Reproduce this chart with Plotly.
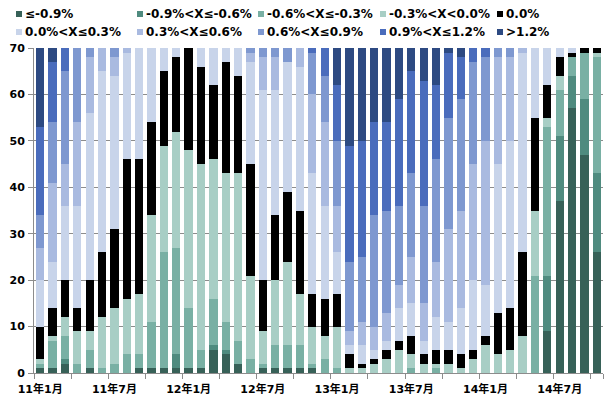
import plotly.graph_objects as go

# Monthly categories, Jan 2011 .. Oct 2014
MONTHS = [f"{y}年{m}月" for y in (11, 12, 13) for m in range(1, 13)] + \
         [f"14年{m}月" for m in range(1, 11)]
LABELLED = ["11年1月", "11年7月", "12年1月", "12年7月",
            "13年1月", "13年7月", "14年1月", "14年7月"]

# number of cities in each month-on-month change bucket (bottom to top)
le_m09 = [1, 1, 2, 0, 1, 0, 0, 0, 1, 1, 1, 1, 1, 1, 5, 4, 2, 0, 1, 1, 1, 1, 1,
          0, 0, 0, 0, 0, 0, 0, 0, 0, 0, 0, 0, 0, 0, 0, 0, 0, 0, 9, 37, 57, 47, 26]
m09_m06 = [0, 0, 1, 0, 0, 0, 0, 0, 0, 0, 0, 3, 0, 0, 1, 1, 0, 0, 0, 0, 0, 0, 0,
           0, 0, 0, 0, 0, 0, 0, 0, 0, 0, 0, 0, 0, 0, 0, 0, 0, 0, 12, 14, 7, 12, 17]
m06_m03 = [1, 6, 5, 2, 4, 1, 2, 4, 3, 10, 25, 23, 13, 4, 10, 6, 5, 3, 1, 5, 5, 5, 1,
           3, 1, 0, 0, 0, 0, 0, 1, 0, 1, 0, 0, 0, 0, 0, 0, 0, 21, 32, 10, 4, 10, 25]
m03_00 = [1, 1, 4, 7, 4, 11, 12, 12, 13, 23, 23, 25, 34, 40, 30, 32, 36, 18, 7, 14, 18, 11, 8,
          5, 9, 1, 1, 2, 3, 5, 3, 2, 1, 2, 1, 3, 6, 4, 5, 8, 14, 2, 3, 0, 0, 1]
zero = [7, 6, 8, 5, 11, 14, 17, 30, 29, 20, 16, 16, 22, 21, 16, 24, 21, 24, 11, 14, 15, 18, 7,
        8, 7, 3, 1, 1, 2, 2, 4, 2, 3, 3, 3, 2, 2, 9, 9, 18, 20, 7, 4, 1, 1, 1]
p00_03 = [10, 10, 16, 22, 36, 39, 33, 23, 24, 16, 5, 2, 0, 4, 8, 3, 6, 22, 41, 27, 28, 31, 26,
          20, 9, 2, 4, 2, 2, 7, 7, 3, 7, 6, 10, 15, 11, 32, 36, 43, 15, 8, 2, 1, 0, 0]
p03_06 = [7, 17, 9, 18, 12, 5, 4, 1, 0, 0, 0, 0, 0, 0, 0, 0, 0, 2, 7, 7, 0, 4, 17,
          18, 10, 3, 5, 5, 6, 5, 10, 8, 12, 20, 21, 25, 31, 23, 18, 1, 0, 0, 0, 0, 0, 0]
p06_09 = [7, 13, 20, 16, 2, 0, 2, 0, 0, 0, 0, 0, 0, 0, 0, 0, 0, 1, 2, 2, 3, 0, 9,
          10, 14, 15, 14, 24, 22, 17, 18, 21, 22, 24, 24, 22, 18, 2, 2, 0, 0, 0, 0, 0, 0, 0]
p09_12 = [19, 13, 5, 0, 0, 0, 0, 0, 0, 0, 0, 0, 0, 0, 0, 0, 0, 0, 0, 0, 0, 0, 1,
          6, 12, 25, 25, 20, 19, 23, 22, 27, 16, 14, 9, 3, 2, 0, 0, 0, 0, 0, 0, 0, 0, 0]
gt_12 = [17, 3, 0, 0, 0, 0, 0, 0, 0, 0, 0, 0, 0, 0, 0, 0, 0, 0, 0, 0, 0, 0, 0,
         0, 8, 21, 20, 16, 16, 11, 5, 7, 8, 1, 2, 0, 0, 0, 0, 0, 0, 0, 0, 0, 0, 0]

SERIES = [
    ("≤-0.9%", le_m09, "#376158"),
    ("-0.9%<X≤-0.6%", m09_m06, "#4f8b7f"),
    ("-0.6%<X≤-0.3%", m06_m03, "#79b0a4"),
    ("-0.3%<X<0.0%", m03_00, "#a8cec5"),
    ("0.0%", zero, "#000000"),
    ("0.0%<X≤0.3%", p00_03, "#c8d4ea"),
    ("0.3%<X≤0.6%", p03_06, "#a9bae0"),
    ("0.6%<X≤0.9%", p06_09, "#7e98d0"),
    ("0.9%<X≤1.2%", p09_12, "#4a6cbc"),
    (">1.2%", gt_12, "#2d4a82"),
]

FONT = "DejaVu Sans, Noto Sans CJK SC, sans-serif"
GRID = "#8c8c8c"

# the page body adds an 8px margin, so the figure is drawn 8px smaller
W, H = 608, 395
# plot-area edges in figure pixels
PL, PR, PT, PB = 26, 595, 40, 365


def paper_x(px):
    return (px - PL) / (PR - PL)


def paper_y(py):
    return (PB - py) / (PB - PT)


fig = go.Figure()
for name, vals, colour in SERIES:
    fig.add_trace(go.Bar(
        x=MONTHS, y=vals, name=name,
        marker=dict(color=colour, line_width=0),
        showlegend=False,
    ))

# hand-made legend: two rows of five
legend_cols = [8, 129, 250, 372, 489]
legend_rows = [6, 24]
shapes, annotations = [], []
for k, (name, _, colour) in enumerate(SERIES):
    cx = legend_cols[k % 5]
    cy = legend_rows[k // 5]
    shapes.append(dict(
        type="rect", xref="paper", yref="paper",
        x0=paper_x(cx), x1=paper_x(cx + 6),
        y0=paper_y(cy + 3), y1=paper_y(cy - 3),
        fillcolor=colour, line_width=0,
    ))
    annotations.append(dict(
        text=name, xref="paper", yref="paper",
        x=paper_x(cx + 7), y=paper_y(cy),
        xanchor="left", yanchor="middle", showarrow=False,
        font=dict(family=FONT, size=12, color="black", weight="bold"),
    ))

tickvals = MONTHS[::3]
ticktext = [m if m in LABELLED else "" for m in tickvals]

fig.update_layout(
    width=W, height=H,
    margin=dict(l=PL, r=W - PR, t=PT, b=H - PB, autoexpand=False),
    barmode="stack", bargap=0.33,
    plot_bgcolor="white", paper_bgcolor="white",
    shapes=shapes, annotations=annotations,
    xaxis=dict(
        type="category", tickmode="array", tickvals=tickvals, ticktext=ticktext,
        tickson="boundaries", ticks="outside", ticklen=5, tickcolor=GRID,
        tickangle=0, ticklabelstandoff=6,
        showline=True, linecolor=GRID, showgrid=False,
        tickfont=dict(family=FONT, size=11, color="black", weight="bold"),
    ),
    yaxis=dict(
        range=[0, 70], dtick=10, showgrid=True, gridcolor=GRID, gridwidth=1,
        showline=True, linecolor=GRID, ticks="outside", ticklen=5, tickcolor=GRID,
        zeroline=False, ticklabelstandoff=1,
        tickfont=dict(family=FONT, size=11, color="black", weight="bold"),
    ),
)

fig.write_html("out.html")
